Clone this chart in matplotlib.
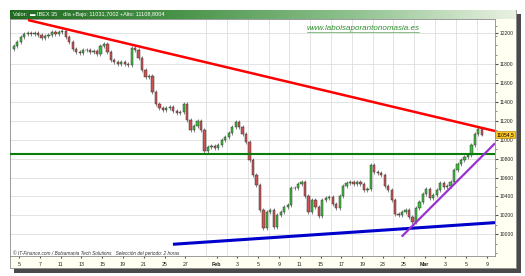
import matplotlib
matplotlib.use("Agg")
import matplotlib.pyplot as plt
from matplotlib.patches import Rectangle
from matplotlib.lines import Line2D
from matplotlib.colors import LinearSegmentedColormap
import numpy as np

W, H = 525, 276

# IBEX 35, 2-hour candles (3 per trading day), closes
closes = [
    11991, 12033, 12086, 12118, 12129, 12118, 12129, 12107, 12075, 12097,
    12107, 12139, 12118, 12139, 12150, 12086, 12033, 11959, 11927, 11917,
    11949, 11949, 11927, 11938, 11906, 11991, 12012, 11927, 11843, 11822,
    11800, 11822, 11800, 11790, 11970, 11949, 11864, 11737, 11663, 11674,
    11504, 11377, 11335, 11314, 11335, 11346, 11304, 11283, 11293, 11377,
    11208, 11103, 11145, 11198, 11103, 10881, 10923, 10934, 10913, 10944,
    10997, 11029, 11071, 11135, 11188, 11135, 11060, 10976, 10786, 10627,
    10522, 10257, 10067, 10236, 10257, 10077, 10204, 10236, 10289, 10310,
    10490, 10490, 10532, 10553, 10405, 10236, 10363, 10289, 10194, 10363,
    10384, 10395, 10321, 10278, 10405, 10511, 10543, 10553, 10532, 10553,
    10532, 10469, 10479, 10733, 10659, 10649, 10627, 10511, 10469, 10363,
    10215, 10204, 10236, 10257, 10183, 10130, 10278, 10342, 10426, 10479,
    10384, 10416, 10469, 10543, 10500, 10511, 10553, 10680, 10744, 10786,
    10817, 10839, 10944, 11060, 11113, 11054.5,
]
first_open = 11960
bars_per_day = 3
first_bar = 1
wick = 20

# trading-day index of each date label (day 0 = Jan 4)
tick_days = [1, 3, 5, 7, 9, 11, 13, 15, 17, 20, 22, 24, 26, 28, 30, 32, 34,
             36, 38, 40, 42, 44, 46]
tick_labels = ["5", "7", "11", "13", "15", "19", "21", "25", "27", "Feb", "3",
               "5", "9", "11", "15", "17", "19", "23", "25", "Mar", "3", "5", "9"]
grid_days = list(range(1, 47, 2))

ytick_values = [10000, 10200, 10400, 10600, 10800, 11000, 11200, 11400, 11600,
                11800, 12130]
ytick_labels = ["10000", "10200", "10400", "10600", "10800", "11000", "11200",
                "11400", "11600", "11800", "12200"]
last_price = 11054.5

# trend lines (day, price)
resist_x, resist_y = [1.87, 46.77], [12266, 11092]
support_level = 10850
base_x, base_y = [15.8, 46.77], [9894, 10123]
rise_x, rise_y = [37.8, 46.77], [9975, 10962]


def fr(x0, y0, x1, y1):
    return [x0 / W, 1 - y1 / H, (x1 - x0) / W, (y1 - y0) / H]


fig = plt.figure(figsize=(W / 100, H / 100), dpi=100)
fig.patch.set_facecolor("white")

# drop shadow + cream frame
fig.add_artist(Rectangle((14 / W, 1 - 273 / H), (521 - 14) / W, (273 - 14) / H,
                         transform=fig.transFigure, facecolor="#4a4a4a",
                         edgecolor="none", zorder=0))
fig.add_artist(Rectangle((10 / W, 1 - 268 / H), (516 - 10) / W, (268 - 10) / H,
                         transform=fig.transFigure, facecolor="#fffff2",
                         edgecolor="#8a8a8a", lw=0.6, zorder=0.5))

# header gradient bar
hax = fig.add_axes(fr(10, 10, 516, 19))
hax.set_zorder(2)
cmap = LinearSegmentedColormap.from_list(
    "hdr", ["#1f6a1f", "#4a944a", "#8cc08c", "#e9f1e2"])
hax.imshow(np.linspace(0, 1, 256)[None, :], aspect="auto", cmap=cmap)
hax.set_axis_off()
fig.text(13 / W, 1 - 14.6 / H,
         "Valor:  \u25ac IBEX 35    día +Bajo: 11031,7002 +Alto: 11108,8004",
         color="white", fontsize=4.0, va="center", family="Liberation Sans",
         zorder=10)

ax = fig.add_axes(fr(10, 19, 495, 256))
ax.set_zorder(2)
ax.set_facecolor("white")
ax.set_xlim(0.135, 46.77)
ax.set_ylim(9770, 12277)

opens = [first_open] + closes[:-1]
xs = [(first_bar + i + 0.5) / bars_per_day for i in range(len(closes))]
for x, o, c in zip(xs, opens, closes):
    col = "#3cbf3c" if c >= o else "#cf5252"
    ax.vlines(x, min(o, c) - wick, max(o, c) + wick, color="#444444", lw=0.45,
              zorder=3)
    ax.bar(x, c - o, bottom=o, width=0.22, color=col, edgecolor="#333333",
           lw=0.35, zorder=4)

ax.plot(resist_x, resist_y, color="#ff0000", lw=1.8, zorder=5,
        solid_capstyle="butt")
ax.axhline(support_level, color="#0a7d0a", lw=1.5, zorder=5)
ax.plot(base_x, base_y, color="#0000cc", lw=2.2, zorder=5,
        solid_capstyle="butt")
ax.plot(rise_x, rise_y, color="#9932cc", lw=1.6, zorder=5,
        solid_capstyle="butt")

ax.set_xticks(tick_days)
ax.set_xticklabels(tick_labels, fontsize=3.8, family="Liberation Sans")
for lab in ax.get_xticklabels():
    if lab.get_text() in ("Feb", "Mar"):
        lab.set_fontweight("bold")
ax.set_xticks(grid_days, minor=True)
ax.tick_params(axis="x", which="major", length=1.5, pad=3, color="#555555",
               labelcolor="#222222")
ax.tick_params(axis="x", which="minor", length=0)

ax.yaxis.tick_right()
ax.set_yticks(ytick_values)
ax.set_yticklabels(ytick_labels, fontsize=3.6, family="Liberation Sans")
ax.set_yticks(list(range(9800, 12300, 100)), minor=True)
ax.tick_params(axis="y", which="major", length=2, pad=1, color="#555555",
               labelcolor="#222222")
ax.tick_params(axis="y", which="minor", length=1.2, color="#777777")

ax.grid(axis="y", which="major", color="#dedede", lw=0.6)
ax.grid(axis="x", which="minor", color="#dedede", lw=0.6)
ax.set_axisbelow(True)
for s in ax.spines.values():
    s.set_color("#8a8a8a")
    s.set_linewidth(0.6)

ax.text(1.003, last_price, "11054,5", transform=ax.get_yaxis_transform(),
        fontsize=3.6, va="center", ha="left", family="Liberation Sans",
        clip_on=False, zorder=6,
        bbox=dict(boxstyle="square,pad=0.25", facecolor="#ffc726",
                  edgecolor="#a07800", lw=0.4))

fig.text(307 / W, 1 - 28 / H, "www.labolsaporantonomasia.es", color="#2f8f2f",
         fontsize=5.8, style="italic", va="center", family="Liberation Sans",
         zorder=10)
fig.add_artist(Line2D([307 / W, 419 / W], [1 - 31.5 / H, 1 - 31.5 / H],
                      transform=fig.transFigure, color="#2f8f2f", lw=0.4,
                      zorder=10))

fig.text(13 / W, 1 - 253 / H,
         "© IT-Finance.com / Bolsamania Tech Solutions   Selección del periodo: 2 horas",
         color="#333333", fontsize=3.4, style="italic", va="center",
         family="Liberation Sans", zorder=10)

fig.savefig("out.png", dpi=100)
